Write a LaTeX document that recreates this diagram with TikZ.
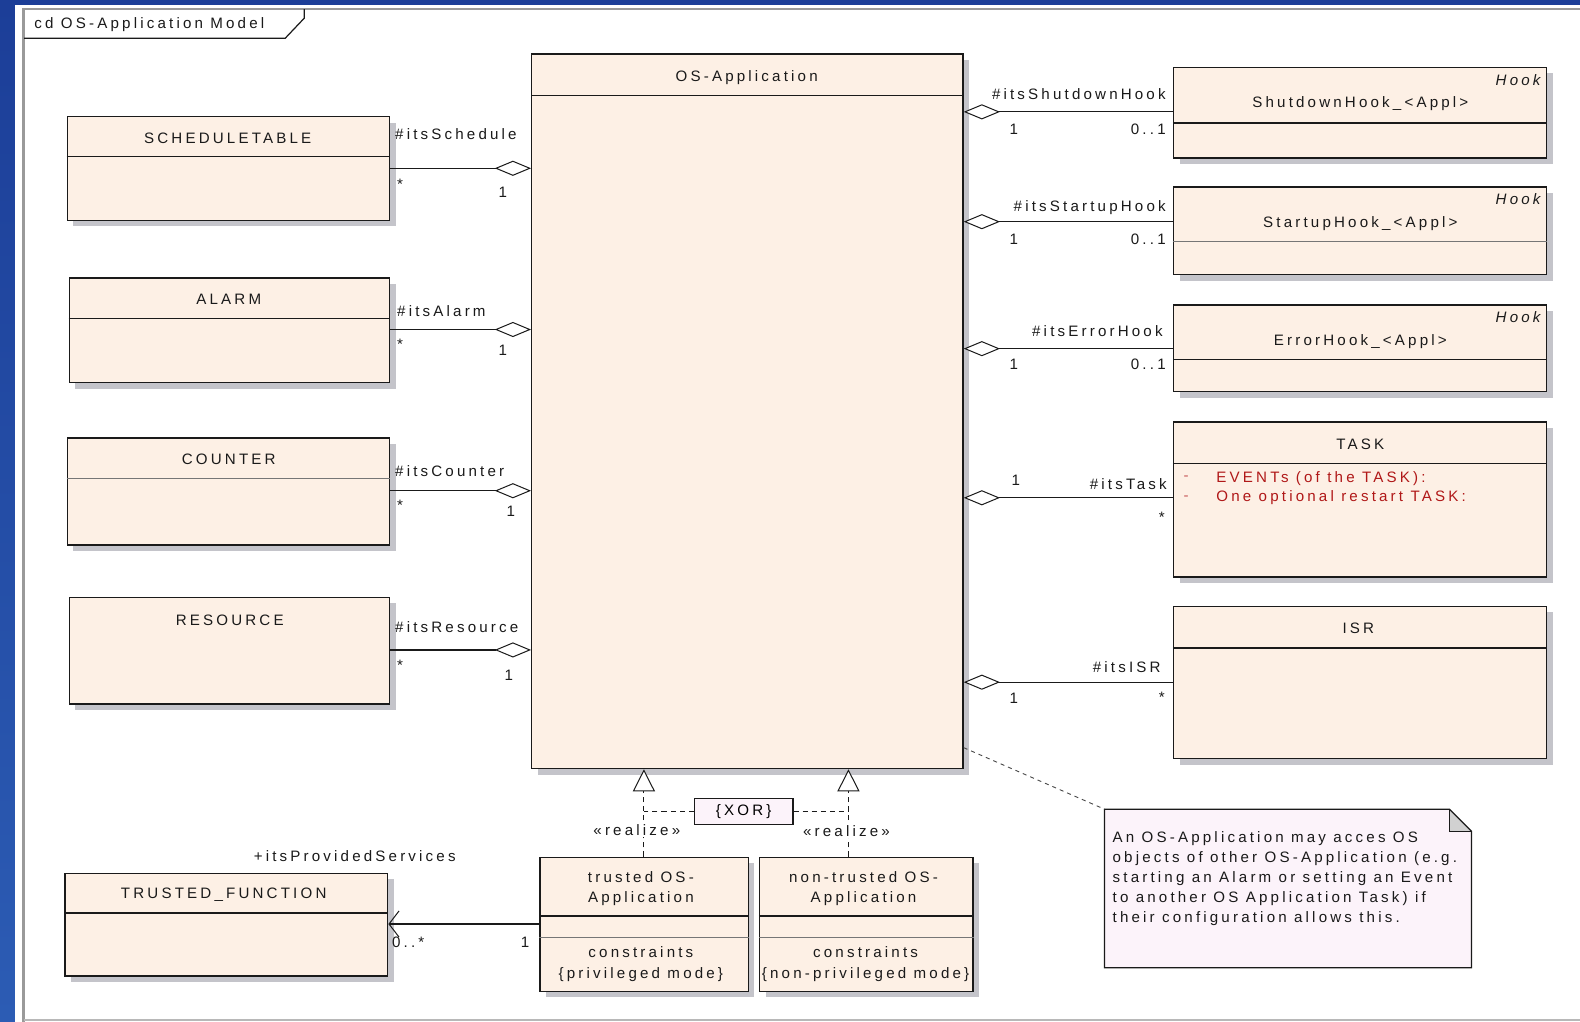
\documentclass[tikz,border=0pt]{standalone}
\usepackage{fontspec}
\setmainfont{Liberation Sans}[LetterSpace=21]
\usetikzlibrary{arrows.meta,shadows}
\definecolor{boxfill}{HTML}{FDF0E5}
\definecolor{notefill}{HTML}{FCF3FA}
\definecolor{ink}{HTML}{1A1A1A}
\definecolor{slideblue}{HTML}{1C3E98}
\definecolor{slideblueb}{HTML}{2C5CB4}
\definecolor{framegray}{HTML}{9A9A9A}
\definecolor{shadowgray}{HTML}{C4C4CA}
\definecolor{attrred}{HTML}{B01818}
\newcommand{\umlfont}{\fontsize{15}{18}\selectfont}
\tikzset{
  umlbox/.style={draw=ink, fill=boxfill, line width=1.4pt, inner sep=0pt,
    anchor=north west,
    drop shadow={shadow xshift=6pt, shadow yshift=-6pt, fill=shadowgray, opacity=1}},
  divider/.style={draw=ink, line width=1.2pt},
  thindiv/.style={draw=ink!60, line width=0.9pt},
  lbl/.style={inner sep=0pt, text=ink},
  stereo/.style={inner sep=1.5pt, fill=white, text=ink},
  agg/.style={draw=ink, line width=1.2pt,
    {Diamond[length=36pt,width=15pt,line width=1pt,fill=white]}-},
  realizeline/.style={draw=ink, line width=1.1pt, dash pattern=on 5pt off 4pt,
    -{Triangle[length=22pt,width=22pt,line width=1pt,fill=white,sep=0pt]}},
  xorline/.style={draw=ink, line width=1.1pt, dash pattern=on 5pt off 4pt},
  notelink/.style={draw=ink!80, line width=0.9pt, dash pattern=on 4pt off 4pt},
  assocline/.style={draw=ink, line width=1.2pt,
    -{Straight Barb[length=10pt,width=26pt,line width=1pt]}},
  hookst/.style={inner sep=0pt, text=ink, anchor=east, font=\umlfont\itshape},
}
\begin{document}
\begin{tikzpicture}[x=1pt,y=-1pt,font=\umlfont]
\useasboundingbox (0,0) rectangle (1568,1014);

% slide background and diagram frame
\fill[slideblue] (0,0) rectangle (1568,1014);
\shade[top color=slideblue, bottom color=slideblueb] (0,0) rectangle (15,1014);
\fill[white] (15,5) rectangle (1568,1014);
\draw[framegray, line width=2.5pt] (23.5,1014) -- (23.5,9) -- (1568,9);
\draw[framegray!70, line width=1.5pt] (23.5,1012) -- (1568,1012);
\draw[ink, line width=1.2pt] (24,38) -- (283,38) -- (302,18) -- (302,9);
\node[lbl, anchor=west] (frametitle) at (34,24) {cd OS-Application Model};

% central class
\node[umlbox, minimum width=428pt, minimum height=709pt] (osapp) at (527,53) {};
\draw[divider] (osapp.west |- 0,95) -- (osapp.east |- 0,95);
\node[lbl] (osappT) at (741,77) {OS-Application};

% classes on the left
\node[umlbox, minimum width=320pt, minimum height=103pt] (sched) at (66,115) {};
\draw[divider] (sched.west |- 0,155) -- (sched.east |- 0,155);
\node[lbl] (schedT) at (226,137) {SCHEDULETABLE};

\node[umlbox, minimum width=318pt, minimum height=104pt] (alarm) at (68,275) {};
\draw[divider] (alarm.west |- 0,316) -- (alarm.east |- 0,316);
\node[lbl] (alarmT) at (227,297) {ALARM};

\node[umlbox, minimum width=320pt, minimum height=106pt] (counter) at (66,434) {};
\draw[thindiv] (counter.west |- 0,475) -- (counter.east |- 0,475);
\node[lbl] (counterT) at (227,456) {COUNTER};

\node[umlbox, minimum width=318pt, minimum height=106pt] (resource) at (68,592) {};
\node[lbl] (resourceT) at (228,616) {RESOURCE};

% classes on the right
\node[umlbox, minimum width=370pt, minimum height=90pt] (shut) at (1164,66) {};
\draw[divider] (shut.west |- 0,122) -- (shut.east |- 0,122);
\node[lbl] (shutT) at (1350,103) {ShutdownHook\_<Appl>};
\node[hookst] (shutS) at (1529,79) {Hook};

\node[umlbox, minimum width=370pt, minimum height=87pt] (start) at (1164,185) {};
\draw[thindiv] (start.west |- 0,240) -- (start.east |- 0,240);
\node[lbl] (startT) at (1350,222) {StartupHook\_<Appl>};
\node[hookst] (startS) at (1529,198) {Hook};

\node[umlbox, minimum width=370pt, minimum height=86pt] (err) at (1164,302) {};
\draw[divider] (err.west |- 0,357) -- (err.east |- 0,357);
\node[lbl] (errT) at (1350,339) {ErrorHook\_<Appl>};
\node[hookst] (errS) at (1529,315) {Hook};

\node[umlbox, minimum width=370pt, minimum height=154pt] (task) at (1164,418) {};
\draw[divider] (task.west |- 0,460) -- (task.east |- 0,460);
\node[lbl] (taskT) at (1350,441) {TASK};
\node[lbl, text=attrred!70] (taskD1) at (1177,475) {-};
\node[lbl, text=attrred!70] (taskD2) at (1177,494) {-};
\node[lbl, anchor=west, text=attrred] (taskA1) at (1207,475) {EVENTs (of the TASK):};
\node[lbl, anchor=west, text=attrred] (taskA2) at (1207,494) {One optional restart TASK:};

\node[umlbox, minimum width=370pt, minimum height=151pt] (isr) at (1164,601) {};
\draw[divider] (isr.west |- 0,643) -- (isr.east |- 0,643);
\node[lbl] (isrT) at (1348,624) {ISR};

% aggregations on the left
\draw[agg] (osapp.west |- 0,167) -- (sched.east |- 0,167);
\node[lbl, anchor=west] (schedR) at (392,133) {\#itsSchedule};
\node[lbl] (schedM) at (397,183) {*};
\node[lbl] (schedO) at (499,191) {1};

\draw[agg] (osapp.west |- 0,327) -- (alarm.east |- 0,327);
\node[lbl, anchor=west] (alarmR) at (394,309) {\#itsAlarm};
\node[lbl] (alarmM) at (397,342) {*};
\node[lbl] (alarmO) at (499,348) {1};

\draw[agg] (osapp.west |- 0,487) -- (counter.east |- 0,487);
\node[lbl, anchor=west] (counterR) at (392,468) {\#itsCounter};
\node[lbl] (counterM) at (397,501) {*};
\node[lbl] (counterO) at (507,507) {1};

\draw[agg] (osapp.west |- 0,645) -- (resource.east |- 0,645);
\node[lbl, anchor=west] (resourceR) at (392,622) {\#itsResource};
\node[lbl] (resourceM) at (397,660) {*};
\node[lbl] (resourceO) at (505,670) {1};

% aggregations on the right
\draw[agg] (osapp.east |- 0,111) -- (shut.west |- 0,111);
\node[lbl, anchor=east] (shutR) at (1157,93) {\#itsShutdownHook};
\node[lbl] (shutO) at (1006,128) {1};
\node[lbl, anchor=east] (shutM) at (1157,128) {0..1};

\draw[agg] (osapp.east |- 0,220) -- (start.west |- 0,220);
\node[lbl, anchor=east] (startR) at (1157,206) {\#itsStartupHook};
\node[lbl] (startO) at (1006,237) {1};
\node[lbl, anchor=east] (startM) at (1157,237) {0..1};

\draw[agg] (osapp.east |- 0,346) -- (err.west |- 0,346);
\node[lbl, anchor=east] (errR) at (1154,329) {\#itsErrorHook};
\node[lbl] (errO) at (1006,362) {1};
\node[lbl, anchor=east] (errM) at (1157,362) {0..1};

\draw[agg] (osapp.east |- 0,494) -- (task.west |- 0,494);
\node[lbl] (taskO) at (1008,477) {1};
\node[lbl, anchor=east] (taskR) at (1158,480) {\#itsTask};
\node[lbl] (taskM) at (1153,513) {*};

\draw[agg] (osapp.east |- 0,677) -- (isr.west |- 0,677);
\node[lbl, anchor=east] (isrR) at (1152,662) {\#itsISR};
\node[lbl] (isrO) at (1006,693) {1};
\node[lbl] (isrM) at (1153,692) {*};

% realizing classes
\node[umlbox, minimum width=207pt, minimum height=133pt] (trusted) at (535,850) {};
\draw[divider] (trusted.west |- 0,909) -- (trusted.east |- 0,909);
\draw[thindiv] (trusted.west |- 0,930) -- (trusted.east |- 0,930);
\node[lbl, align=center, font=\fontsize{15}{20}\selectfont] (trustedT) at (636,882) {trusted OS-\\Application};
\node[lbl, align=center, font=\fontsize{15}{21}\selectfont] (trustedC) at (636,957) {constraints\\\{privileged mode\}};

\node[umlbox, minimum width=212pt, minimum height=133pt] (untrusted) at (753,850) {};
\draw[divider] (untrusted.west |- 0,909) -- (untrusted.east |- 0,909);
\draw[thindiv] (untrusted.west |- 0,930) -- (untrusted.east |- 0,930);
\node[lbl, align=center, font=\fontsize{15}{20}\selectfont] (untrustedT) at (857,882) {non-trusted OS-\\Application};
\node[lbl, align=center, font=\fontsize{15}{21}\selectfont] (untrustedC) at (859,957) {constraints\\\{non-privileged mode\}};

\draw[realizeline] (trusted.north -| 639,0) -- (osapp.south -| 639,0);
\draw[realizeline] (untrusted.north -| 842,0) -- (osapp.south -| 842,0);
\node[stereo] (realizeA) at (632,824) {«realize»};
\node[stereo] (realizeB) at (840,825) {«realize»};

% XOR constraint between the two realizations
\node[draw=ink, line width=1.1pt, fill=notefill, inner sep=0pt,
      minimum width=98pt, minimum height=26pt] (xor) at (738,805) {\{XOR\}};
\coordinate (xorL) at (639,805);
\coordinate (xorR) at (842,805);
\draw[xorline] (xor.west) -- (xorL);
\draw[xorline] (xor.east) -- (xorR);

% trusted functions
\node[umlbox, minimum width=320pt, minimum height=102pt] (tf) at (64,866) {};
\draw[divider] (tf.west |- 0,906) -- (tf.east |- 0,906);
\node[lbl] (tfT) at (222,888) {TRUSTED\_FUNCTION};
\draw[assocline] (trusted.west |- 0,917) -- (tf.east |- 0,917);
\node[lbl] (tfR) at (352,850) {+itsProvidedServices};
\node[lbl, anchor=west] (tfM) at (389,935) {0..*};
\node[lbl] (tfO) at (521,935) {1};

% note attached to the central class
\node[inner sep=0pt, minimum width=364pt, minimum height=157pt, anchor=north west] (note) at (1096,803) {};
\fill[notefill] (note.north west) -- ([xshift=-22pt]note.north east)
  -- ([yshift=-22pt]note.north east) -- (note.south east) -- (note.south west) -- cycle;
\fill[black!18] ([xshift=-22pt]note.north east) -- ([yshift=-22pt]note.north east)
  -- ([xshift=-22pt,yshift=-22pt]note.north east) -- cycle;
\draw[ink, line width=1.2pt] (note.north west) -- ([xshift=-22pt]note.north east)
  -- ([yshift=-22pt]note.north east) -- (note.south east) -- (note.south west) -- cycle;
\draw[ink, line width=0.8pt] ([xshift=-22pt]note.north east) -- ([xshift=-22pt,yshift=-22pt]note.north east)
  -- ([yshift=-22pt]note.north east);
\node[lbl, anchor=north west, align=left, font=\fontsize{15}{19.8}\selectfont] (noteT) at (1104,825)
  {An OS-Application may acces OS\\objects of other OS-Application (e.g.\\starting an Alarm or setting an Event\\to another OS Application Task) if\\their configuration allows this.};
\draw[notelink] (osapp.east |- 0,742) -- (note.north west);

\end{tikzpicture}
\end{document}
